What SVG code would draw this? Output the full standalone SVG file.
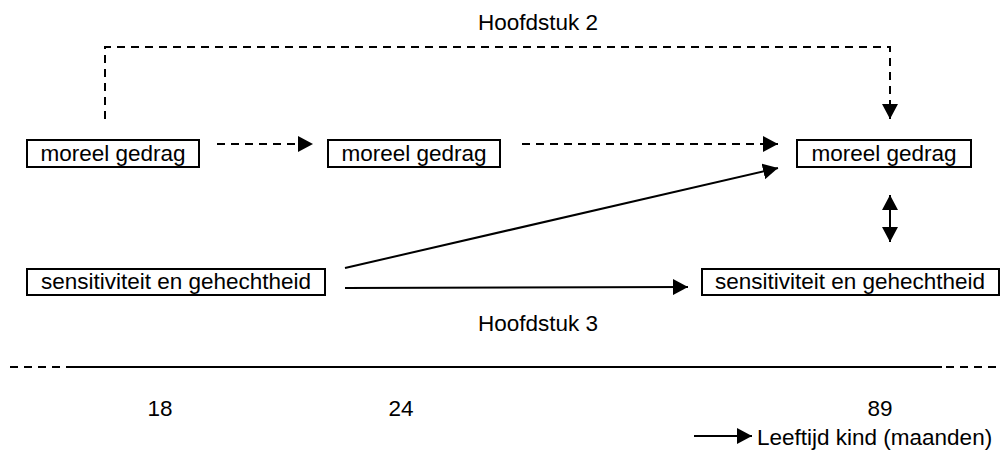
<svg xmlns="http://www.w3.org/2000/svg" width="1002" height="452" viewBox="0 0 1002 452">
<style>
text{font-family:"Liberation Sans",Arial,sans-serif;font-size:22.5px;fill:#000}
.box{fill:#fff;stroke:#000;stroke-width:2}
.ln{fill:none;stroke:#000;stroke-width:2}
.dash{stroke-dasharray:8 6}
</style>
<defs>
<marker id="ah" markerUnits="userSpaceOnUse" markerWidth="16" markerHeight="16" refX="15" refY="8" orient="auto-start-reverse" viewBox="0 0 16 16">
<path d="M0,0 L15,8 L0,16 Z" fill="#000"/>
</marker>
</defs>
<text x="538" y="30" text-anchor="middle">Hoofdstuk 2</text>
<text x="538" y="331" text-anchor="middle">Hoofdstuk 3</text>
<g id="connectors">
<path class="ln dash" d="M105,119 V47 H890 V104"/>
<line class="ln" x1="890" y1="104" x2="890" y2="119" marker-end="url(#ah)" stroke-width="0"/>
<line class="ln dash" x1="217" y1="144" x2="313" y2="144" marker-end="url(#ah)"/>
<line class="ln dash" x1="522" y1="144" x2="778" y2="144" marker-end="url(#ah)"/>
<line class="ln" x1="345" y1="268" x2="778" y2="168" marker-end="url(#ah)"/>
<line class="ln" x1="345" y1="288" x2="688" y2="287" marker-end="url(#ah)"/>
<line class="ln" x1="890" y1="195" x2="890" y2="242" marker-start="url(#ah)" marker-end="url(#ah)"/>
<line class="ln dash" x1="10" y1="367" x2="72" y2="367"/>
<line class="ln" x1="72" y1="367" x2="942" y2="367"/>
<line class="ln dash" x1="946" y1="367" x2="1002" y2="367"/>
<line class="ln" x1="694" y1="436" x2="752" y2="436" marker-end="url(#ah)"/>
</g>
<g id="n1"><rect class="box" x="27" y="140" width="172" height="27"/><text x="113" y="161" text-anchor="middle">moreel gedrag</text></g>
<g id="n2"><rect class="box" x="328" y="140" width="172" height="27"/><text x="414" y="161" text-anchor="middle">moreel gedrag</text></g>
<g id="n3"><rect class="box" x="797" y="140" width="174" height="27"/><text x="884" y="161" text-anchor="middle">moreel gedrag</text></g>
<g id="n4"><rect class="box" x="27" y="269" width="298" height="26"/><text x="176" y="289" text-anchor="middle">sensitiviteit en gehechtheid</text></g>
<g id="n5"><rect class="box" x="702" y="269" width="297" height="26"/><text x="850" y="289" text-anchor="middle">sensitiviteit en gehechtheid</text></g>
<g id="axis">
<text x="160" y="416" text-anchor="middle">18</text>
<text x="401" y="416" text-anchor="middle">24</text>
<text x="880" y="416" text-anchor="middle">89</text>
<text x="757" y="445">Leeftijd kind (maanden)</text>
</g>
</svg>
